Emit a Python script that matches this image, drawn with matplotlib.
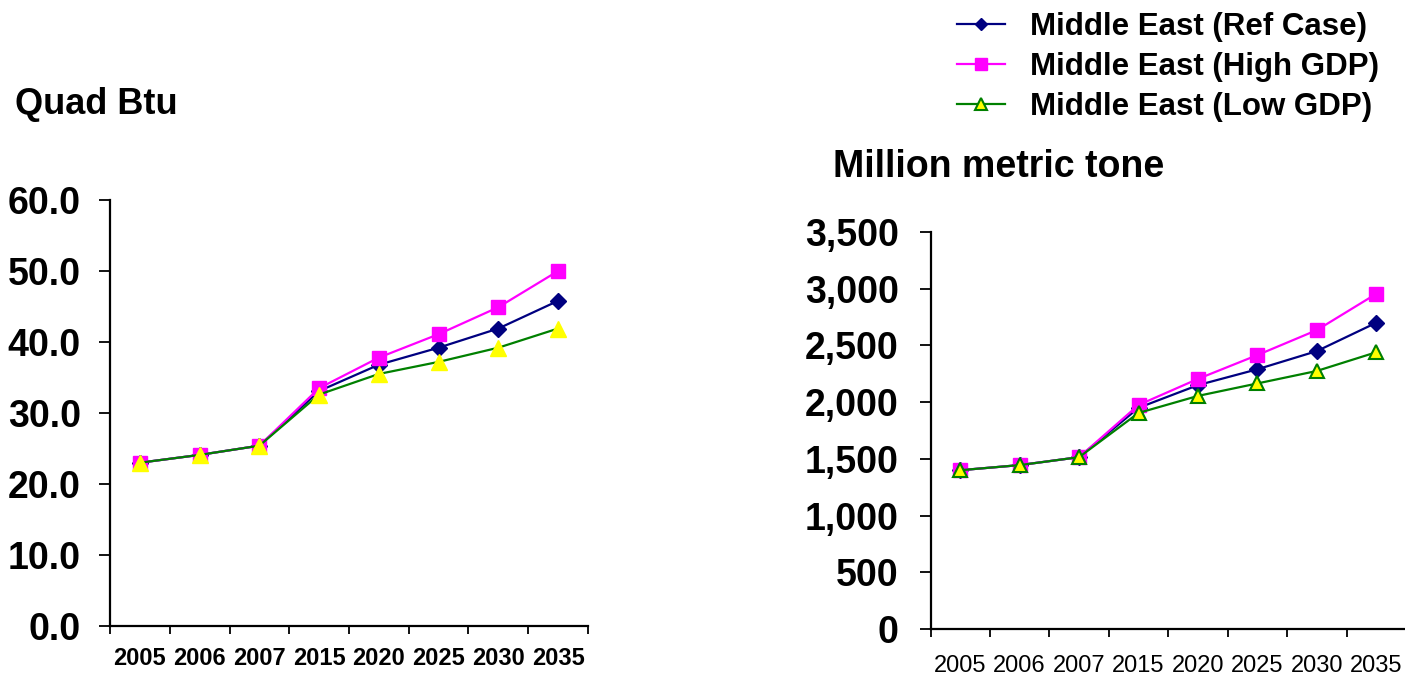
import numpy as np
import matplotlib.pyplot as plt
from matplotlib.ticker import FixedLocator, FuncFormatter

plt.rcParams['font.family'] = ['Liberation Sans', 'DejaVu Sans']

years = ["2005", "2006", "2007", "2015", "2020", "2025", "2030", "2035"]
labels = ["Middle East (Ref Case)", "Middle East (High GDP)", "Middle East (Low GDP)"]

# energy consumption, quadrillion Btu
quad_ref = [23.0, 24.1, 25.4, 33.1, 36.8, 39.2, 41.9, 45.8]
quad_high = [23.0, 24.1, 25.4, 33.5, 37.8, 41.1, 44.9, 50.0]
quad_low = [23.0, 24.1, 25.4, 32.6, 35.5, 37.2, 39.2, 41.9]

# carbon dioxide emissions, million metric tons
co2_ref = [1400, 1445, 1515, 1950, 2150, 2290, 2450, 2700]
co2_high = [1400, 1445, 1515, 1975, 2205, 2415, 2635, 2955]
co2_low = [1400, 1445, 1515, 1905, 2055, 2165, 2275, 2440]

x = np.arange(len(years))

fig = plt.figure(figsize=(14.05, 6.77), dpi=100)
ax1 = fig.add_axes([0.0783, 0.0753, 0.3402, 0.6293])
ax2 = fig.add_axes([0.6623, 0.0709, 0.3384, 0.5864])


def style_axis(ax, ymax, ystep, fmt, ypad, xbold, xpad):
    for s in ["top", "right"]:
        ax.spines[s].set_visible(False)
    for s in ["left", "bottom"]:
        ax.spines[s].set_linewidth(1.6)
    ax.set_xlim(-0.5, len(years) - 0.5)
    ax.set_ylim(0, ymax)
    ax.set_yticks(np.arange(0, ymax + 1e-9, ystep))
    ax.yaxis.set_major_formatter(FuncFormatter(fmt))
    ax.tick_params(axis="y", direction="out", length=8, width=1.3, pad=ypad,
                   labelsize=27)
    for t in ax.get_yticklabels():
        t.set_fontweight("bold")
    # tick marks sit between categories, labels sit under them
    ax.xaxis.set_major_locator(FixedLocator(np.arange(-0.5, len(years), 1.0)))
    ax.xaxis.set_minor_locator(FixedLocator(x))
    ax.tick_params(axis="x", which="major", direction="out", length=6,
                   width=1.3, labelbottom=False)
    ax.tick_params(axis="x", which="minor", length=0, pad=xpad, labelsize=17)
    ax.set_xticks(x, years, minor=True,
                  fontweight="bold" if xbold else "normal")


ax1.plot(x, quad_ref, color="#000080", lw=1.6, marker="D", ms=8, label=labels[0], clip_on=False)
ax1.plot(x, quad_high, color="#FF00FF", lw=1.6, marker="s", ms=10, label=labels[1], clip_on=False)
ax1.plot(x, quad_low, color="#008000", lw=1.6, marker="^", ms=11,
         mfc="#FFFF00", mec="#FFFF00", label=labels[2], clip_on=False)
style_axis(ax1, 60, 10, lambda v, p: f"{v:.1f}", 13, True, 15)

ax2.plot(x, co2_ref, color="#000080", lw=1.6, marker="D", ms=8, label=labels[0], clip_on=False)
ax2.plot(x, co2_high, color="#FF00FF", lw=1.6, marker="s", ms=10, label=labels[1], clip_on=False)
ax2.plot(x, co2_low, color="#008000", lw=1.6, marker="^", ms=10,
         mfc="#FFFF00", mec="#008000", mew=1.5, label=labels[2], clip_on=False)
style_axis(ax2, 3500, 500, lambda v, p: f"{int(v):,}", 15, False, 19)

fig.text(0.011, 0.845, "Quad Btu", fontsize=26, fontweight="bold", va="center")
fig.text(0.593, 0.753, "Million metric tone", fontsize=27, fontweight="bold", va="center")

h, l = ax2.get_legend_handles_labels()
leg = fig.legend(h, l, loc="upper left", bbox_to_anchor=(0.661, 1.024),
                 frameon=False, fontsize=22.5, handlelength=1.55,
                 handletextpad=0.8, labelspacing=0.32, markerscale=0.8)
for t in leg.get_texts():
    t.set_fontweight("bold")

plt.savefig("out.png", dpi=100)
